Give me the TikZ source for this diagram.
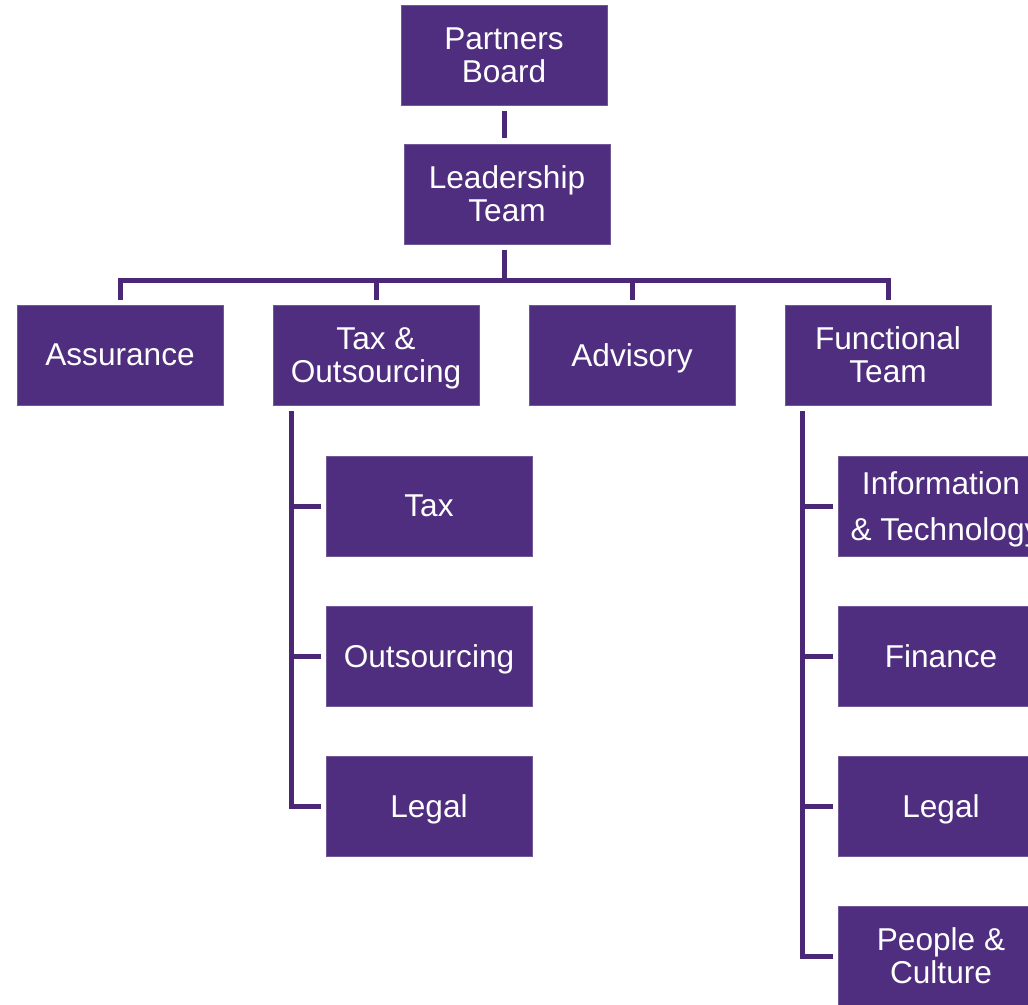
\documentclass[tikz,border=0pt]{standalone}
\usepackage{fontspec}
\setmainfont{Liberation Sans}
\definecolor{boxpurple}{RGB}{79,45,127}
\definecolor{linepurple}{RGB}{74,40,118}
\begin{document}
\begin{tikzpicture}[x=1pt,y=-1pt,
  orgbox/.style={fill=boxpurple, draw=boxpurple!80!white, line width=0.6pt, minimum width=206pt, minimum height=100pt,
    inner sep=0pt, text=white, align=center, text depth=0pt, font=\fontsize{31.6pt}{33pt}\selectfont},
  conn/.style={draw=linepurple, line width=5pt}]
\useasboundingbox (0,0) rectangle (1028,1004);
\clip (0,0) rectangle (1028,1004);

\node[orgbox] (pb) at (504,55) {Partners\\Board};
\node[orgbox] (lt) at (507,194) {Leadership\\Team};
\node[orgbox] (as) at (120,355) {Assurance};
\node[orgbox] (to) at (376,355) {Tax \&\\Outsourcing};
\node[orgbox] (ad) at (632,355) {Advisory};
\node[orgbox] (ft) at (888,355) {Functional\\Team};

\node[orgbox] (tax) at (429,506) {Tax};
\node[orgbox] (out) at (429,656) {Outsourcing};
\node[orgbox] (leg1) at (429,806) {Legal};

\node[orgbox] (it) at (941,506) {Information\\[13.6pt]\hspace*{9pt}\& Technology};
\node[orgbox] (fin) at (941,656) {Finance};
\node[orgbox] (leg2) at (941,806) {Legal};
\node[orgbox] (pc) at (941,956) {People \&\\Culture};

% top connectors
\coordinate (bar) at (504,280);
\draw[conn] ([yshift=-6pt]pb.south) -- ([yshift=6pt]lt.north -| pb.south);
\draw[conn] ([yshift=-6pt]lt.south -| pb.south) -- (pb.south |- bar);
\draw[conn, line join=miter] ([yshift=5pt]as.north) |- (bar) -| ([yshift=5pt]ft.north);
\draw[conn] ([yshift=5pt]to.north) -- (to.north |- bar);
\draw[conn] ([yshift=5pt]ad.north) -- (ad.north |- bar);

% tax & outsourcing branch
\coordinate (tl) at ([xshift=19pt,yshift=-6pt]to.south west);
\draw[conn, line join=miter] (tl) |- ([xshift=-5pt]leg1.west);
\draw[conn] ([xshift=-5pt]tax.west) -- (tax.west -| tl);
\draw[conn] ([xshift=-5pt]out.west) -- (out.west -| tl);

% functional team branch
\coordinate (fl) at ([xshift=18pt,yshift=-6pt]ft.south west);
\draw[conn, line join=miter] (fl) |- ([xshift=-5pt]pc.west);
\draw[conn] ([xshift=-5pt]it.west) -- (it.west -| fl);
\draw[conn] ([xshift=-5pt]fin.west) -- (fin.west -| fl);
\draw[conn] ([xshift=-5pt]leg2.west) -- (leg2.west -| fl);
\end{tikzpicture}
\end{document}
